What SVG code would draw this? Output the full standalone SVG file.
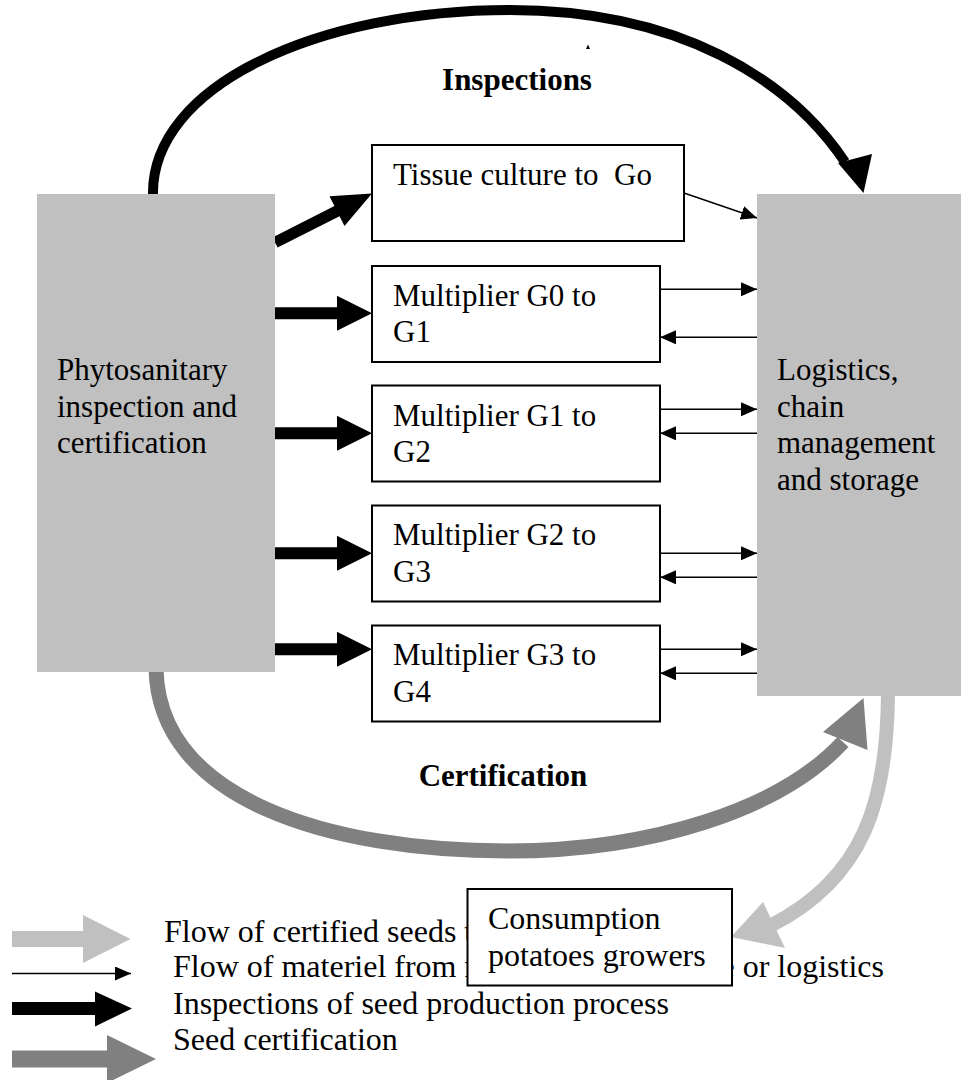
<svg xmlns="http://www.w3.org/2000/svg" width="961" height="1080" viewBox="0 0 961 1080">
<defs>
<style>
text{font-family:"Liberation Serif","Times New Roman",serif;fill:#000}
.t{font-size:31px}
.lg{font-size:32px}
.b{font-size:31px;font-weight:bold}
.gray{fill:#c0c0c0}
.box{fill:#fff;stroke:#000;stroke-width:2}
.thin{stroke:#000;stroke-width:1.5;fill:none}
</style>
<marker id="ah" markerUnits="userSpaceOnUse" markerWidth="16" markerHeight="14" refX="16" refY="7" orient="auto">
<path d="M0,0 L16,7 L0,14 Z" fill="#000"/>
</marker>
<polygon id="thick" points="0,-6 62,-6 62,-17.5 97,0 62,17.5 62,6 0,6" fill="#000"/>
</defs>
<rect width="961" height="1080" fill="#fff"/>

<g id="legend">
<polygon points="12,931 83,931 83,915 130.5,939 83,963 83,947 12,947" fill="#c0c0c0"/>
<text class="lg" x="164" y="942">Flow of certified seeds t</text>
<line class="thin" x1="12" y1="973.5" x2="131" y2="973.5" marker-end="url(#ah)"/>
<text class="lg" x="173" y="977">Flow of materiel from m</text>
<text class="lg" x="884" y="977" text-anchor="end">e or logistics</text>
<polygon points="12,1002 95,1002 95,991.5 132,1008.5 95,1026.5 95,1015 12,1015" fill="#000"/>
<text class="lg" x="173" y="1014">Inspections of seed production process</text>
<polygon points="12,1050.5 107,1050.5 107,1035 156,1059 107,1083 107,1067.5 12,1067.5" fill="#808080"/>
<text class="lg" x="173" y="1050">Seed certification</text>
</g>

<g id="connectors">
<path d="M153,196 C150,85 320,10 510,10 C680,10 790,80 845,162" fill="none" stroke="#000" stroke-width="10"/>
<polygon points="838,163 872,154 863.5,193" fill="#000"/>
<polygon points="586,49 588,44.5 590,49" fill="#000"/>
<path d="M156,668 C158,800 330,851 508,851 C650,851 780,810 843,742" fill="none" stroke="#808080" stroke-width="15"/>
<polygon points="823,732 863.5,698 867.5,750" fill="#808080"/>
<path d="M888,694 C887,800 865,878 770,926" fill="none" stroke="#c0c0c0" stroke-width="14"/>
<polygon points="763,902 785,948 731,937" fill="#c0c0c0"/>
<use href="#thick" transform="translate(275,242.5) rotate(-26.8) scale(1.12,0.95)"/>
<use href="#thick" x="0" y="0" transform="translate(275,313.3)"/>
<use href="#thick" transform="translate(275,433.3)"/>
<use href="#thick" transform="translate(275,553.3)"/>
<use href="#thick" transform="translate(275,649.3)"/>
<line class="thin" x1="684" y1="193" x2="757" y2="218" marker-end="url(#ah)"/>
<line class="thin" x1="660" y1="289.3" x2="757" y2="289.3" marker-end="url(#ah)"/>
<line class="thin" x1="757" y1="337.3" x2="660" y2="337.3" marker-end="url(#ah)"/>
<line class="thin" x1="660" y1="409.3" x2="757" y2="409.3" marker-end="url(#ah)"/>
<line class="thin" x1="757" y1="433.3" x2="660" y2="433.3" marker-end="url(#ah)"/>
<line class="thin" x1="660" y1="553.3" x2="757" y2="553.3" marker-end="url(#ah)"/>
<line class="thin" x1="757" y1="577.3" x2="660" y2="577.3" marker-end="url(#ah)"/>
<line class="thin" x1="660" y1="649.3" x2="757" y2="649.3" marker-end="url(#ah)"/>
<line class="thin" x1="757" y1="673.3" x2="660" y2="673.3" marker-end="url(#ah)"/>
<text class="b" x="517" y="90" text-anchor="middle">Inspections</text>
<text class="b" x="503" y="786" text-anchor="middle">Certification</text>
</g>

<g id="phyto">
<rect class="gray" x="37" y="194" width="238" height="478"/>
<text class="t" x="57" y="380">Phytosanitary</text>
<text class="t" x="57" y="417">inspection and</text>
<text class="t" x="57" y="453">certification</text>
</g>
<g id="logistics">
<rect class="gray" x="757" y="194" width="210" height="502"/>
<text class="t" x="777" y="380">Logistics,</text>
<text class="t" x="777" y="417">chain</text>
<text class="t" x="777" y="453">management</text>
<text class="t" x="777" y="490">and storage</text>
</g>
<g id="tissue">
<rect class="box" x="372" y="145" width="312" height="96"/>
<text class="t" x="393" y="185" xml:space="preserve">Tissue culture to  Go</text>
</g>
<g id="g0g1">
<rect class="box" x="372" y="266" width="288" height="96"/>
<text class="t" x="393" y="306">Multiplier G0 to</text>
<text class="t" x="393" y="342">G1</text>
</g>
<g id="g1g2">
<rect class="box" x="372" y="385.5" width="288" height="96"/>
<text class="t" x="393" y="426">Multiplier G1 to</text>
<text class="t" x="393" y="462">G2</text>
</g>
<g id="g2g3">
<rect class="box" x="372" y="505.5" width="288" height="96"/>
<text class="t" x="393" y="545">Multiplier G2 to</text>
<text class="t" x="393" y="582">G3</text>
</g>
<g id="g3g4">
<rect class="box" x="372" y="625.5" width="288" height="96"/>
<text class="t" x="393" y="665">Multiplier G3 to</text>
<text class="t" x="393" y="702">G4</text>
</g>
<g id="consumption">
<rect class="box" x="467.5" y="889" width="264.5" height="96.5"/>
<text class="lg" x="488" y="929">Consumption</text>
<text class="lg" x="488" y="966">potatoes growers</text>
</g>
</svg>
